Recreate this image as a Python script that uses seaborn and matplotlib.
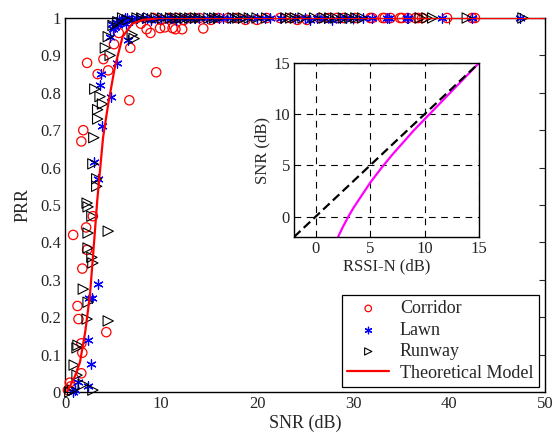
import matplotlib
matplotlib.use("Agg")
import matplotlib.pyplot as plt
import numpy as np
import pandas as pd
import seaborn as sns

# ---- measured packet reception ratio vs SNR ----
corridor_snr = [0.3, 0.5, 0.6, 1.7, 1.8, 1.7, 4.3, 1.4, 1.3, 1.8, 2.3, 0.85, 2.2, 2.9,
                1.7, 1.9, 6.7, 3.4, 9.5, 4.5, 2.3, 4.0, 6.8, 5.1, 5.6, 8.5, 8.9, 7.9,
                10.4, 11.5, 9.9, 11.2, 12.2, 14.4,
                9.2, 10.0, 10.8, 11.6, 12.4, 13.0, 14.0, 15.2, 16.0, 17.0, 17.9, 18.8,
                20.0, 21.0, 22.4, 23.5, 24.2, 25.2, 26.5, 27.5, 28.3, 29.0, 30.2, 31.8,
                32.0, 33.1, 33.3, 33.9, 34.9, 35.1, 35.7, 36.5, 36.8, 37.2, 39.8, 42.4,
                42.7]
corridor_prr = [0.005, 0.025, 0.015, 0.05, 0.105, 0.13, 0.16, 0.195, 0.23, 0.33, 0.38, 0.42,
                0.44, 0.47, 0.67, 0.70, 0.78, 0.85, 0.855, 0.86, 0.88, 0.89, 0.92, 0.93,
                0.96, 0.97, 0.96, 0.985, 0.975, 0.97, 0.973, 0.973, 0.97, 0.972,
                1.0, 0.995, 1.0, 1.0, 0.995, 1.0, 1.0, 0.995, 1.0, 1.0, 1.0, 0.995,
                0.995, 1.0, 1.0, 1.0, 0.995, 0.995, 1.0, 1.0, 1.0, 1.0, 1.0, 1.0,
                1.0, 1.0, 1.0, 1.0, 1.0, 1.0, 1.0, 1.0, 1.0, 1.0, 1.0, 1.0,
                1.0]

lawn_snr = [0.8, 1.0, 1.35, 2.4, 2.7, 2.4, 2.8, 2.5, 3.4, 3.4, 3.0, 3.85, 4.8, 3.6, 3.75,
            5.4, 6.6, 4.7, 5.0, 5.5, 5.8, 6.0, 6.3, 5.3, 4.9, 5.6, 6.2, 7.0, 5.2, 5.7,
            6.5, 7.5, 8.0, 8.5, 9.0, 9.6, 10.0, 10.6, 11.0, 11.6, 12.0, 12.6, 13.0,
            13.5, 14.0, 14.8, 15.5, 16.0, 16.5, 17.2, 18.0, 19.0, 20.0, 20.8, 21.4,
            22.5, 24.0, 25.0, 25.5, 26.3, 27.0, 27.8, 28.6, 29.3,
            30.0, 31.0, 32.0, 33.5, 33.8, 35.6, 35.7, 39.3, 42.4, 47.4]
lawn_prr = [0.0, 0.005, 0.027, 0.016, 0.075, 0.14, 0.25, 0.25, 0.29, 0.57, 0.615, 0.71,
            0.79, 0.82, 0.85, 0.88, 0.94, 0.95, 0.97, 0.98, 0.99, 0.995, 0.985, 0.99,
            0.985, 0.995, 1.0, 0.995, 0.975, 0.99,
            1.0, 1.0, 1.0, 1.0, 0.995, 1.0, 1.0, 1.0, 1.0, 0.995, 1.0, 1.0, 1.0,
            1.0, 1.0, 1.0, 1.0, 1.0, 1.0, 1.0, 1.0, 1.0, 1.0, 1.0, 1.0,
            1.0, 1.0, 1.0, 0.995, 1.0, 1.0, 0.995, 1.0, 1.0,
            1.0, 1.0, 1.0, 1.0, 1.0, 1.0, 1.0, 1.0, 1.0, 1.0]

runway_snr = [0.5, 0.8, 2.9, 1.9, 1.25, 0.95, 1.25, 1.35, 4.5, 2.3, 2.4, 1.9, 2.9, 2.8,
              2.4, 2.4, 4.5, 2.8, 2.4, 2.3, 3.3, 3.3, 2.9, 3.0, 3.4, 3.4, 3.9, 3.65,
              3.1, 4.7, 4.2, 7.2, 4.5, 7.0, 5.0,
              5.5, 6.0, 6.5, 7.5, 8.0, 8.7, 9.5, 10.2, 11.0, 11.5, 12.0, 12.5, 13.0,
              13.6, 14.0, 15.0, 15.6, 16.0, 17.5, 18.0, 18.6, 19.2, 20.0, 21.0, 23.0,
              23.5, 24.0, 24.8, 26.0, 27.0, 27.6, 28.2, 29.0, 29.7, 30.3, 31.0, 37.0,
              37.7, 38.3, 41.9, 47.7]
runway_prr = [0.0, 0.005, 0.005, 0.02, 0.045, 0.072, 0.118, 0.125, 0.19, 0.195, 0.24,
              0.275, 0.345, 0.36, 0.385, 0.425, 0.43, 0.47, 0.495, 0.505, 0.55, 0.57,
              0.61, 0.68, 0.73, 0.755, 0.77, 0.79, 0.81, 0.90, 0.92, 0.945, 0.95, 0.955,
              0.98,
              0.99, 1.0, 0.995, 1.0, 1.0, 1.0, 1.0, 1.0, 1.0, 1.0, 1.0, 1.0, 1.0,
              1.0, 1.0, 1.0, 1.0, 1.0, 1.0, 1.0, 1.0, 1.0, 1.0, 1.0, 1.0,
              1.0, 1.0, 1.0, 1.0, 1.0, 1.0, 1.0, 1.0, 1.0, 1.0, 1.0, 1.0,
              1.0, 1.0, 1.0, 1.0]

# ---- theoretical model curve ----
model_snr = [0.2, 1.0, 1.56, 2.1, 2.6, 3.1, 3.35, 3.96, 4.5, 5.2, 6.0, 7.0, 8.1, 10.0, 50.0]
model_prr = [0.0, 0.04, 0.08, 0.16, 0.26, 0.425, 0.51, 0.68, 0.77, 0.87, 0.95, 0.985,
             0.995, 1.0, 1.0]

# ---- inset: SNR vs RSSI-N ----
rssi_n = [2.05, 2.5, 3.0, 3.5, 4.0, 5.0, 6.0, 7.0, 8.0, 9.0, 10.0, 11.0, 12.0, 13.0, 14.0, 15.0]
snr_est = [-2.0, -1.0, 0.0, 0.9, 1.7, 3.3, 4.7, 6.0, 7.2, 8.4, 9.5, 10.6, 11.7, 12.8, 13.9, 15.0]
ident_x = [-2.0, 15.0]
ident_y = [-2.0, 15.0]

sns.set_style("white")
plt.rcParams["font.family"] = ["Liberation Serif", "DejaVu Serif"]

fig = plt.figure(figsize=(5.52, 4.37), dpi=100)
ax = fig.add_axes([0.1178, 0.103, 0.8695, 0.8558])

df_c = pd.DataFrame({"snr": corridor_snr, "prr": corridor_prr})
df_l = pd.DataFrame({"snr": lawn_snr, "prr": lawn_prr})
df_r = pd.DataFrame({"snr": runway_snr, "prr": runway_prr})
df_m = pd.DataFrame({"snr": model_snr, "prr": model_prr})

sns.scatterplot(data=df_c, x="snr", y="prr", ax=ax, marker="o", s=45,
                facecolor="none", edgecolor="red", linewidth=0.9,
                label="Corridor", clip_on=False, zorder=3)
sns.scatterplot(data=df_l, x="snr", y="prr", ax=ax, marker=(6, 2, 0), s=45,
                color="blue", linewidth=0.9,
                label="Lawn", clip_on=False, zorder=3)
sns.scatterplot(data=df_r, x="snr", y="prr", ax=ax, marker=">", s=55,
                facecolor="none", edgecolor="black", linewidth=0.8,
                label="Runway", clip_on=False, zorder=3)
sns.lineplot(data=df_m, x="snr", y="prr", ax=ax, sort=False, estimator=None,
             color="red", linewidth=1.6, label="Theoretical Model", zorder=4)

ax.set_xlim(0, 50)
ax.set_ylim(0, 1)
ax.set_xticks([0, 10, 20, 30, 40, 50])
ax.set_yticks(np.round(np.arange(0, 1.01, 0.1), 1))
ax.set_yticklabels(["0", "0.1", "0.2", "0.3", "0.4", "0.5", "0.6", "0.7", "0.8", "0.9", "1"])
ax.tick_params(direction="in", top=True, right=True, length=4, width=0.8,
               labelsize=12, pad=3)
ax.set_xlabel("SNR (dB)", fontsize=13, labelpad=2)
ax.set_ylabel("PRR", fontsize=13, labelpad=6)
for sp in ax.spines.values():
    sp.set_color("black")
    sp.set_linewidth(1.0)

leg = ax.legend(loc="lower right", bbox_to_anchor=(0.987, 0.013), borderaxespad=0,
                fontsize=13, frameon=True, fancybox=False, edgecolor="black",
                framealpha=1, handlelength=2.3, handletextpad=0.6, markerscale=0.7,
                labelspacing=0.25, borderpad=0.3)
leg.get_frame().set_linewidth(0.9)

# inset axes
ins = fig.add_axes([0.5326, 0.4577, 0.335, 0.398])
df_i = pd.DataFrame({"rssi": rssi_n, "snr": snr_est})
df_id = pd.DataFrame({"rssi": ident_x, "snr": ident_y})
sns.lineplot(data=df_i, x="rssi", y="snr", ax=ins, sort=False, estimator=None,
             color="magenta", linewidth=1.6)
sns.lineplot(data=df_id, x="rssi", y="snr", ax=ins, sort=False, estimator=None,
             color="black", linewidth=1.6, linestyle=(0, (4, 2)))
ins.set_xlim(-2, 15)
ins.set_ylim(-2, 15)
ins.set_xticks([0, 5, 10, 15])
ins.set_yticks([0, 5, 10, 15])
ins.grid(True, color="black", linestyle=(0, (6, 5)), linewidth=0.8)
ins.tick_params(direction="in", top=True, right=True, length=0, labelsize=12, pad=3)
ins.set_xlabel("RSSI-N (dB)", fontsize=12, labelpad=1)
ins.set_ylabel("SNR (dB)", fontsize=12, labelpad=2)
for sp in ins.spines.values():
    sp.set_color("black")
    sp.set_linewidth(1.0)

fig.savefig("out.png", dpi=100)
